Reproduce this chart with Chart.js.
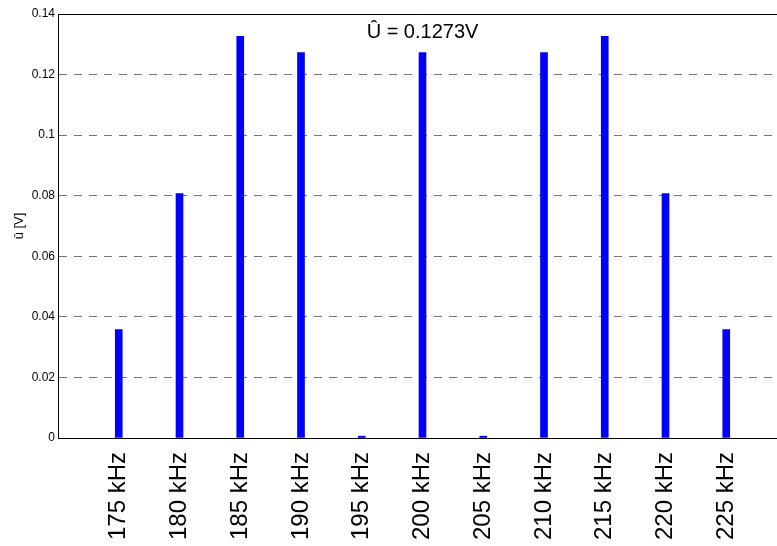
<!DOCTYPE html>
<html>
<head>
<meta charset="utf-8">
<script src="https://cdn.jsdelivr.net/npm/chart.js@4/dist/chart.umd.min.js"></script>
<style>
  html, body { margin: 0; padding: 0; background: #fff; overflow: hidden; }
  #wrap { width: 790px; height: 546px; position: relative; }
</style>
</head>
<body>
<div id="wrap"><canvas id="chart"></canvas></div>
<script>
// Fréquences des raies (kHz) et amplitudes (V)
const freqs = [175, 180, 185, 190, 195, 200, 205, 210, 215, 220, 225];
const amps = [0.0358, 0.0807, 0.1326, 0.1273, 0.0006, 0.1273, 0.0006, 0.1273, 0.1326, 0.0807, 0.0358];
const yTicks = [0, 0.02, 0.04, 0.06, 0.08, 0.1, 0.12, 0.14];
const yLabel = 'û [V]';
const note = 'Û = 0.1273V';
const noteAt = { x: 200, y: 0.134 };

// Cadre haut + texte d'annotation
const extras = {
  id: 'extras',
  afterDraw(chart) {
    const { ctx, chartArea: a, scales: { x, y } } = chart;
    ctx.save();
    ctx.strokeStyle = '#000';
    ctx.lineWidth = 1;
    ctx.beginPath();
    ctx.moveTo(a.left, a.top + 0.5);
    ctx.lineTo(a.right, a.top + 0.5);
    ctx.stroke();
    ctx.fillStyle = '#000';
    ctx.font = '20px "Liberation Sans", Arial, sans-serif';
    ctx.textAlign = 'center';
    ctx.textBaseline = 'middle';
    ctx.fillText(note, x.getPixelForValue(noteAt.x), y.getPixelForValue(noteAt.y));
    ctx.restore();
  }
};

new Chart(document.getElementById('chart'), {
  type: 'bar',
  data: {
    datasets: [{
      data: freqs.map((f, i) => ({ x: f, y: amps[i] })),
      backgroundColor: '#0000ff',
      barThickness: 7,
    }],
  },
  options: {
    responsive: true,
    maintainAspectRatio: false,
    animation: false,
    layout: { padding: { top: 14, right: 3, left: 0, bottom: 0 } },
    plugins: { legend: { display: false }, tooltip: { enabled: false } },
    scales: {
      x: {
        type: 'linear',
        min: 170,
        max: 230,
        offset: false,
        grid: { display: false, drawTicks: false },
        border: { color: '#000', width: 1 },
        afterBuildTicks: s => { s.ticks = freqs.map(v => ({ value: v })); },
        afterFit: s => { s.height = 108; },
        ticks: {
          autoSkip: false,
          minRotation: 90,
          maxRotation: 90,
          padding: 14,
          color: '#000',
          font: { family: '"Liberation Sans", Arial, sans-serif', size: 24 },
          callback: v => v + ' kHz',
        },
      },
      y: {
        min: 0,
        max: 0.14,
        afterBuildTicks: s => { s.ticks = yTicks.map(v => ({ value: v })); },
        afterFit: s => { s.width = 58; },
        grid: { color: '#787878', lineWidth: 1, drawTicks: false },
        border: { color: '#000', width: 1, dash: [8, 7] },
        ticks: {
          padding: 3,
          color: '#000',
          font: { family: '"Liberation Sans", Arial, sans-serif', size: 12 },
          callback: v => String(+v.toFixed(2)),
        },
        title: {
          display: true,
          text: yLabel,
          color: '#000',
          padding: { top: 12, bottom: 0 },
          font: { family: '"Liberation Sans", Arial, sans-serif', size: 13 },
        },
      },
    },
  },
  plugins: [extras],
});
</script>
</body>
</html>
